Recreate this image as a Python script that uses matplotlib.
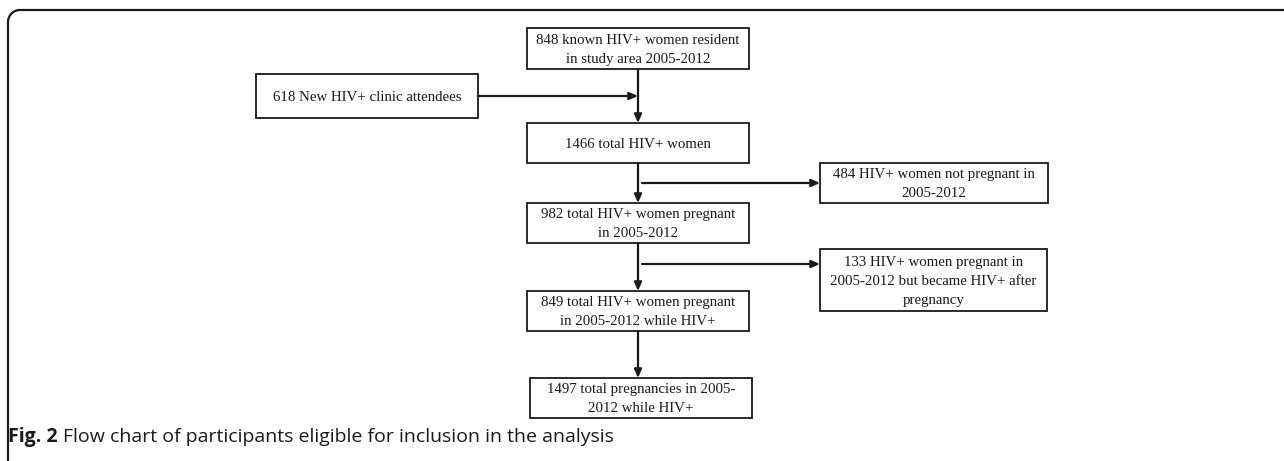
import matplotlib
matplotlib.use('Agg')
from matplotlib import pyplot as plt
from matplotlib.patches import Rectangle, Arc

W, H = 1284, 461

# box texts
labels = [
    '848 known HIV+ women resident\nin study area 2005-2012',
    '618 New HIV+ clinic attendees',
    '1466 total HIV+ women',
    '484 HIV+ women not pregnant in\n2005-2012',
    '982 total HIV+ women pregnant\nin 2005-2012',
    '133 HIV+ women pregnant in\n2005-2012 but became HIV+ after\npregnancy',
    '849 total HIV+ women pregnant\nin 2005-2012 while HIV+',
    '1497 total pregnancies in 2005-\n2012 while HIV+',
]
# box geometry in pixels: left, top, right, bottom
boxes = [
    (527, 28, 749, 69),
    (256, 74, 478, 118),
    (527, 123, 749, 163),
    (820, 163, 1048, 203),
    (527, 203, 749, 243),
    (820, 249, 1047, 311),
    (527, 291, 749, 331),
    (530, 378, 752, 418),
]
caption_bold = 'Fig. 2'
caption_rest = 'Flow chart of participants eligible for inclusion in the analysis'

col = '#1a1a1a'
fig = plt.figure(figsize=(W / 100, H / 100), dpi=100)
ax = fig.add_axes([0, 0, 1, 1])
ax.set_xlim(0, W)
ax.set_ylim(H, 0)
ax.axis('off')

# open frame: top + left with a rounded corner
r = 12
ax.plot([8, 8], [10 + r, H + 5], color=col, lw=1.6, solid_capstyle='butt')
ax.plot([8 + r, W + 5], [10, 10], color=col, lw=1.6, solid_capstyle='butt')
ax.add_patch(Arc((8 + r, 10 + r), 2 * r, 2 * r, theta1=180, theta2=270,
                 color=col, lw=1.6))

for (l, t, rr, b), txt in zip(boxes, labels):
    ax.add_patch(Rectangle((l, t), rr - l, b - t, fill=False, lw=1.3, ec=col))
    ax.text((l + rr) / 2, (t + b) / 2 + 1, txt, ha='center', va='center',
            fontsize=10.7, family='Liberation Serif', color=col, linespacing=1.6)


def arrow(x0, y0, x1, y1):
    ax.annotate('', xy=(x1, y1), xytext=(x0, y0),
                arrowprops=dict(arrowstyle='-|>,head_length=0.5,head_width=0.22',
                                color=col, lw=1.6, shrinkA=0, shrinkB=0))


cx = 638
arrow(cx, boxes[0][3], cx, boxes[2][1])
arrow(boxes[1][2], 96, cx, 96)
arrow(cx, boxes[2][3], cx, boxes[4][1])
arrow(642, 183, boxes[3][0], 183)
arrow(cx, boxes[4][3], cx, boxes[6][1])
arrow(642, 264, boxes[5][0], 264)
arrow(cx, boxes[6][3], cx, boxes[7][1])

# caption: bold label then normal text right after it
t1 = ax.text(8, 437, caption_bold, ha='left', va='center', fontsize=14,
             family='Open Sans', weight='bold', color=col)
fig.canvas.draw()
x_end = ax.transData.inverted().transform(t1.get_window_extent().p1)[0]
ax.text(x_end + 5, 437, caption_rest, ha='left', va='center', fontsize=14,
        family='Open Sans', color=col)

fig.savefig('out.png', dpi=100)
